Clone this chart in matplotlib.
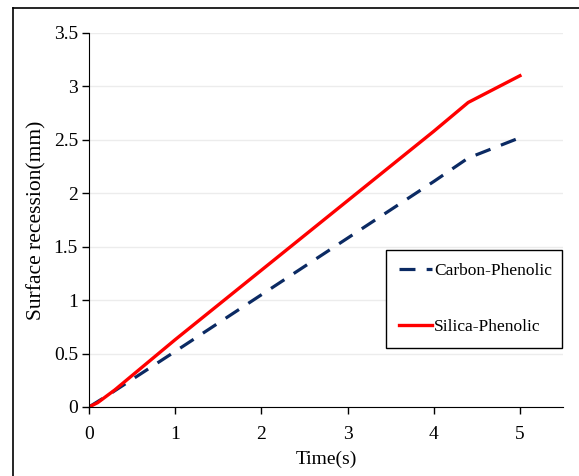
import matplotlib.pyplot as plt
from matplotlib.lines import Line2D

plt.rcParams['font.family'] = ['Liberation Serif', 'DejaVu Serif']

time_carbon = [0, 0.2, 1, 2, 3, 4, 4.4, 5]
carbon = [0, 0.1, 0.52, 1.05, 1.58, 2.11, 2.33, 2.52]

time_silica = [0, 0.1, 0.3, 1, 2, 3, 4, 4.4, 5]
silica = [0, 0.04, 0.16, 0.63, 1.28, 1.93, 2.58, 2.85, 3.1]

fig = plt.figure(figsize=(5.79, 4.76), dpi=100)
ax = fig.add_axes([0.1537, 0.145, 0.8187, 0.7857])

ax.plot(time_carbon, carbon, color='#0b2a63', linestyle=(0, (5, 3.5)), lw=2.3, label='Carbon-Phenolic')
ax.plot(time_silica, silica, color='#ff0000', lw=2.4, label='Silica-Phenolic')

ax.set_xlim(0, 5.5)
ax.set_ylim(0, 3.5)
ax.set_xticks([0, 1, 2, 3, 4, 5])
ax.set_yticks([0, 0.5, 1, 1.5, 2, 2.5, 3, 3.5])
ax.set_yticklabels(['0', '0.5', '1', '1.5', '2', '2.5', '3', '3.5'])
ax.yaxis.grid(True, color='#ececec', lw=1)
ax.set_axisbelow(True)
for s in ['top', 'right']:
    ax.spines[s].set_visible(False)
ax.tick_params(labelsize=14, length=5, width=1)
ax.tick_params(axis='x', pad=9)
ax.tick_params(axis='y', pad=3)

ax.set_xlabel('Time(s)', fontsize=14, labelpad=5)
ax.set_ylabel('Surface recession(mm)', fontsize=15.5, labelpad=5)

leg = ax.legend(loc='upper left', bbox_to_anchor=(0.627, 0.147, 0.37, 0.273), mode='expand',
                fontsize=12.5, frameon=True, fancybox=False, edgecolor='black', framealpha=1,
                handlelength=1.9, handletextpad=0.1, labelspacing=2.3, borderpad=0.75,
                borderaxespad=0)
leg.get_frame().set_linewidth(1)

# outer frame
fig.add_artist(Line2D([13 / 579, 13 / 579], [0, 1 - 8 / 476], color='black', lw=1.2))
fig.add_artist(Line2D([13 / 579, 1], [1 - 8 / 476, 1 - 8 / 476], color='black', lw=1.2))

plt.savefig('out.png')
